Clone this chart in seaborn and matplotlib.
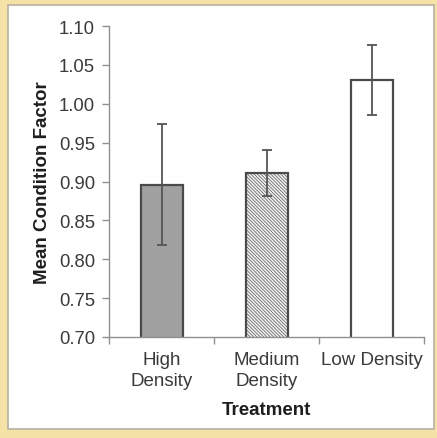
import matplotlib
matplotlib.use("Agg")
import matplotlib.pyplot as plt
from matplotlib.patches import Rectangle
import seaborn as sns
import pandas as pd

# Mean condition factor by stocking density treatment (± error)
treatments = ["High\nDensity", "Medium\nDensity", "Low Density"]
means = [0.896, 0.911, 1.030]
errors = [0.078, 0.030, 0.045]
yticks = [0.70, 0.75, 0.80, 0.85, 0.90, 0.95, 1.00, 1.05, 1.10]

sns.set_theme(style="white")
plt.rcParams["font.family"] = ["Liberation Sans", "DejaVu Sans"]
plt.rcParams["hatch.color"] = "#c6c6c6"
plt.rcParams["hatch.linewidth"] = 0.45

W, H = 437, 439
fig = plt.figure(figsize=(W / 100, H / 100), dpi=100)
fig.patch.set_facecolor("#f4e2a6")

# white slide panel with thin grey frame
fig.patches.append(Rectangle((8 / W, 1 - 430 / H), (434 - 8) / W, (430 - 6) / H,
                             transform=fig.transFigure, facecolor="white",
                             edgecolor="#b8b0a0", linewidth=1.2, zorder=-5))

ax = fig.add_axes([109 / W, 101 / H, 315 / W, 311 / H])
ax.set_facecolor("none")
ax.set_zorder(2)

df = pd.DataFrame({"Treatment": treatments, "Mean": means})
sns.barplot(data=df, x="Treatment", y="Mean", ax=ax, width=0.4,
            color="white", edgecolor="#4a4a4a", linewidth=1.6, zorder=2)

fills = ["#a0a0a0", "#efefef", "white"]
for patch, fc in zip(ax.patches, fills):
    patch.set_facecolor(fc)
ax.patches[1].set_hatch("\\" * 10)
ax.patches[1].set_edgecolor("#4a4a4a")

ax.errorbar(range(len(means)), means, yerr=errors, fmt="none",
            ecolor="#555555", elinewidth=1.3, capsize=3.8, capthick=1.3, zorder=3)

ax.set_ylim(0.70, 1.10)
ax.set_xlim(-0.5, 2.5)
ax.set_yticks(yticks)
ax.set_yticklabels([f"{v:.2f}" for v in yticks])

# category labels at bar centres, tick marks between categories
ax.set_xticks(range(len(treatments)))
ax.set_xticklabels(treatments, linespacing=1.35)
ax.set_xticks([-0.5, 0.5, 1.5, 2.5], minor=True)
ax.tick_params(axis="x", which="major", length=0, pad=10,
               labelsize=13.5, labelcolor="#3a3a3a")
ax.tick_params(axis="x", which="minor", length=5, width=1,
               color="#909090", direction="out", bottom=True)
ax.tick_params(axis="y", length=5, width=1, color="#909090", direction="out",
               left=True, labelsize=13.3, labelcolor="#3a3a3a", pad=5)

for side in ["top", "right"]:
    ax.spines[side].set_visible(False)
for side in ["left", "bottom"]:
    ax.spines[side].set_color("#909090")
    ax.spines[side].set_linewidth(1.0)

ax.set_xlabel("Treatment", fontsize=13.5, fontweight="bold", color="#1e1e1e", labelpad=8)
ax.set_ylabel("Mean Condition Factor", fontsize=13.5, fontweight="bold",
              color="#1e1e1e", labelpad=6)

fig.savefig("out.png", dpi=100, facecolor=fig.get_facecolor())
